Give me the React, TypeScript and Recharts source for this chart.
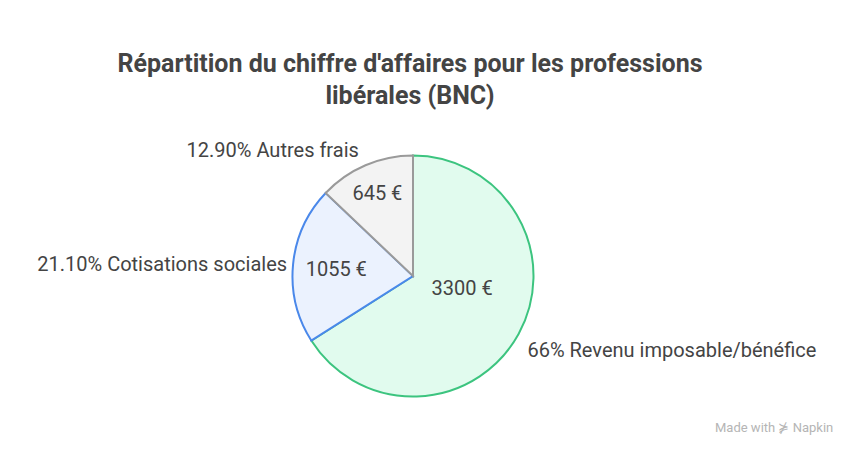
import { PieChart, Pie, Cell } from 'recharts'

const categories = ['Revenu imposable/bénéfice', 'Cotisations sociales', 'Autres frais']
const amounts = [3300, 1055, 645]
const percentLabels = ['66%', '21.10%', '12.90%']

const fills = ['#e1fbee', '#ebf2fe', '#f3f3f3']
const strokes = ['#3cc47f', '#4a88ea', '#9a9a9a']
// per-slice tweaks to place labels like the original layout
const innerPos = [{ r: 0.42, da: 15 }, { r: 0.64, da: 0 }, { r: 0.75, da: 0 }]
const outerPos = [{ r: 1.13, da: -4 }, { r: 1.05, da: 0 }, { r: 1.14, da: 0 }]

const RAD = Math.PI / 180
const FONT = 'Roboto, "Noto Sans", sans-serif'

const data = categories.map((name, i) => ({
  name,
  value: amounts[i],
  pct: percentLabels[i],
}))

function renderLabel(props: any) {
  const { cx, cy, midAngle, outerRadius, index } = props
  const inn = innerPos[index]
  const out = outerPos[index]
  const a1 = (midAngle + inn.da) * RAD
  const a2 = (midAngle + out.da) * RAD
  const ix = cx + outerRadius * inn.r * Math.cos(a1)
  const iy = cy - outerRadius * inn.r * Math.sin(a1)
  const ox = cx + outerRadius * out.r * Math.cos(a2)
  const oy = cy - outerRadius * out.r * Math.sin(a2)
  const anchor = Math.cos(a2) >= 0 ? 'start' : 'end'
  return (
    <g>
      <text x={ix} y={iy} textAnchor="middle" dominantBaseline="central" fill="#444" fontSize={20} fontFamily={FONT}>
        {`${data[index].value} €`}
      </text>
      <text x={ox} y={oy} textAnchor={anchor} dominantBaseline="central" fill="#444" fontSize={20} fontFamily={FONT}>
        {`${data[index].pct} ${data[index].name}`}
      </text>
    </g>
  )
}

export default function App() {
  return (
    <div style={{ position: 'absolute', left: 0, top: 0, width: 848, height: 457, background: '#fff', fontFamily: FONT }}>
      <div
        style={{
          position: 'absolute', left: 0, top: 48, width: 820, textAlign: 'center',
          fontSize: 25, fontWeight: 700, lineHeight: '32px', color: '#444',
        }}
      >
        Répartition du chiffre d'affaires pour les professions
        <br />
        libérales (BNC)
      </div>
      <PieChart width={848} height={457} margin={{ top: 0, right: 0, bottom: 0, left: 0 }}>
        <Pie
          data={data}
          dataKey="value"
          cx={413}
          cy={276}
          outerRadius={120.5}
          startAngle={90}
          endAngle={-270}
          label={renderLabel}
          labelLine={false}
          isAnimationActive={false}
        >
          {data.map((d, i) => (
            <Cell key={d.name} fill={fills[i]} stroke={strokes[i]} strokeWidth={2} />
          ))}
        </Pie>
      </PieChart>
      <div style={{ position: 'absolute', left: 715, top: 420, fontSize: 13, color: '#b5b5b5' }}>
        Made with ⋡ Napkin
      </div>
    </div>
  )
}
